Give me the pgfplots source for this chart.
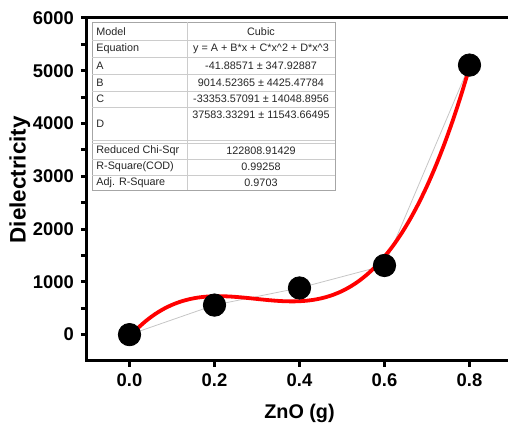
\documentclass[border=0pt]{standalone}
\usepackage{pgfplots}
\pgfplotsset{compat=1.18}
\usepackage{fontspec}
\setmainfont{Liberation Sans}

\newcommand{\tfont}{\fontsize{5.4}{6}\selectfont}

\begin{document}
\begin{tikzpicture}
\begin{axis}[
  scale only axis, width=212.5pt, height=171.5pt,
  xmin=-0.1, xmax=0.9, ymin=-500, ymax=6000,
  axis line style={line width=1.5pt},
  xtick={0,0.2,0.4,0.6,0.8}, ytick={0,1000,...,6000},
  minor y tick num=1,
  xtick pos=left, ytick pos=left,
  tick align=outside,
  major tick length=3pt, minor tick length=3pt,
  every tick/.style={black, line width=1.5pt},
  tick label style={font=\bfseries\fontsize{9.2}{11}\selectfont},
  /pgf/number format/assume math mode=true,
  /pgf/number format/1000 sep={},
  xticklabel style={/pgf/number format/fixed, /pgf/number format/precision=1, /pgf/number format/fixed zerofill},
  xlabel={ZnO (g)}, ylabel={Dielectricity},
  xlabel style={font=\bfseries\fontsize{9.9}{12}\selectfont, at={(axis description cs:0.5,-0.152)}, anchor=center},
  ylabel style={font=\bfseries\fontsize{11.2}{13}\selectfont, at={(axis description cs:-0.158,0.528)}, anchor=center},
]
% line joining the measured points
\addplot[gray!45, line width=0.4pt] coordinates {
  (0,0) (0.2,560) (0.4,884) (0.6,1310) (0.8,5108)};
\addplot[only marks, mark=*, mark size=5.6pt, black] coordinates {
  (0,0) (0.2,560) (0.4,884) (0.6,1310) (0.8,5108)};
% cubic fit, tabulated
\addplot[red, line width=1.9pt, smooth] coordinates {
  (0.00,-41.89) (0.02,125.36) (0.04,267.73) (0.06,387.03) (0.08,485.05)
  (0.10,563.60) (0.12,624.50) (0.14,669.54) (0.16,700.52) (0.18,719.25)
  (0.20,727.54) (0.22,727.19) (0.24,719.98) (0.26,707.76) (0.28,692.29)
  (0.30,675.40) (0.32,658.88) (0.34,644.56) (0.36,634.21) (0.38,629.64)
  (0.40,632.68) (0.42,645.11) (0.44,668.75) (0.46,705.38) (0.48,756.83)
  (0.50,824.90) (0.52,911.36) (0.54,1018.07) (0.56,1146.80) (0.58,1299.36)
  (0.60,1477.53) (0.62,1683.17) (0.64,1918.06) (0.66,2183.98) (0.68,2482.75)
  (0.70,2816.11) (0.72,3185.99) (0.74,3594.08) (0.76,4042.27) (0.78,4532.31)
  (0.80,5066.11)};
\end{axis}

% fit summary table
\begin{scope}[shift={([xshift=2.5pt,yshift=-2pt]current axis.north west)}, x=1pt, y=1pt]
  \draw[gray!70, line width=0.4pt, fill=white] (0,0) rectangle (121.5,-84);
  \foreach \yy in {-9,-17.5,-26,-34.5,-42.5,-59,-60.5,-68.5,-76.5}
    \draw[gray!40, line width=0.4pt] (0,\yy) -- (121.5,\yy);
  \draw[gray!40, line width=0.4pt] (47.5,0) -- (47.5,-84);
  \begin{scope}[every node/.style={font=\tfont, text=black!85, inner sep=0pt}]
    \node[anchor=west] at (2,-4.6) {Model};
    \node[anchor=west] at (2,-13.25) {Equation};
    \node[anchor=west] at (2,-21.75) {A};
    \node[anchor=west] at (2,-30.25) {B};
    \node[anchor=west] at (2,-38.5) {C};
    \node[anchor=west] at (2,-50.75) {D};
    \node[anchor=west] at (2,-64.5) {Reduced Chi-Sqr};
    \node[anchor=west] at (2,-72.5) {R-Square(COD)};
    \node[anchor=west] at (2,-80.25) {Adj. R-Square};
    \node at (84.5,-4.6) {Cubic};
    \node at (84.5,-13.25) {y = A + B*x + C*x\textasciicircum 2 + D*x\textasciicircum 3};
    \node at (84.5,-21.75) {-41.88571 ± 347.92887};
    \node at (84.5,-30.25) {9014.52365 ± 4425.47784};
    \node at (84.5,-38.5) {-33353.57091 ± 14048.8956};
    \node at (84.5,-46.6) {37583.33291 ± 11543.66495};
    \node at (84.5,-64.5) {122808.91429};
    \node at (84.5,-72.5) {0.99258};
    \node at (84.5,-80.25) {0.9703};
  \end{scope}
\end{scope}

\pgfresetboundingbox
\path[use as bounding box] ([shift={(-43.5pt,-32.5pt)}]current axis.south west)
  rectangle ([shift={(210.5pt,180.5pt)}]current axis.south west);
\end{tikzpicture}
\end{document}
